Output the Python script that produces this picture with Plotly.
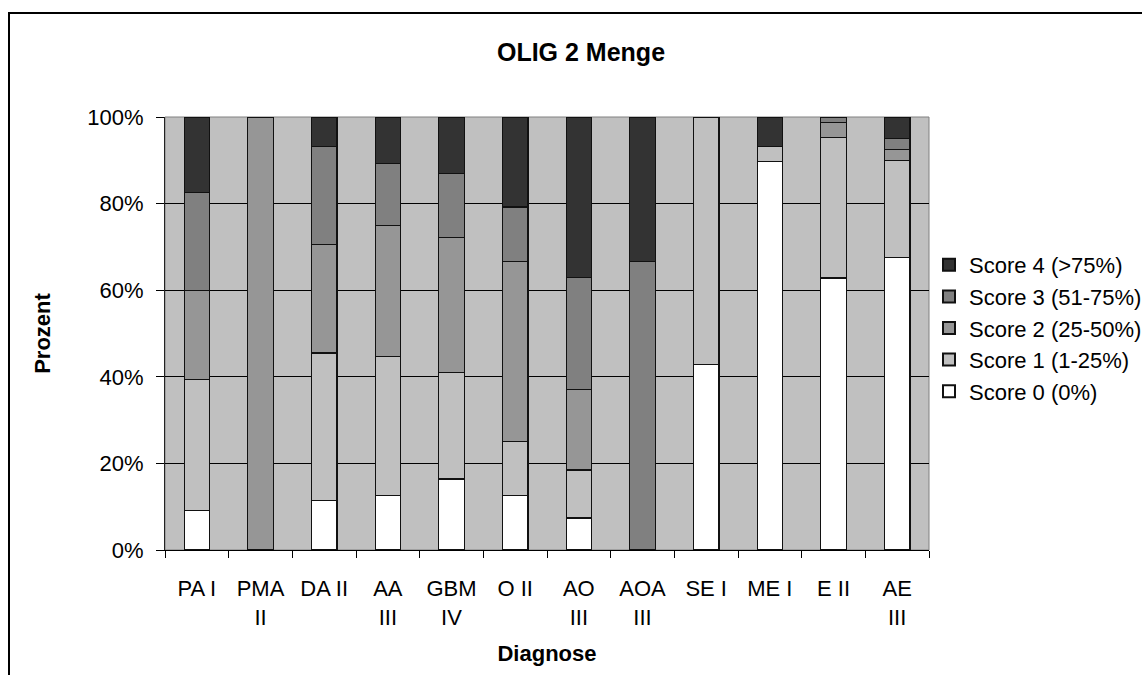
import plotly.graph_objects as go

categories = ["PA I", "PMA<br>II", "DA II", "AA<br>III", "GBM<br>IV", "O II",
              "AO<br>III", "AOA<br>III", "SE I", "ME I", "E II", "AE<br>III"]

score0 = [9.1, 0.0, 11.4, 12.5, 16.4, 12.5, 7.4, 0.0, 42.9, 89.7, 62.8, 67.5]
score1 = [30.2, 0.0, 34.1, 32.1, 24.6, 12.5, 11.1, 0.0, 57.1, 3.4, 32.5, 22.5]
score2 = [20.6, 100.0, 25.0, 30.4, 31.1, 41.7, 18.5, 0.0, 0.0, 0.0, 3.5, 2.5]
score3 = [22.6, 0.0, 22.7, 14.3, 14.8, 12.5, 26.0, 66.7, 0.0, 0.0, 1.2, 2.5]
score4 = [17.5, 0.0, 6.8, 10.7, 13.1, 20.8, 37.0, 33.3, 0.0, 6.9, 0.0, 5.0]

series_names = ["Score 0 (0%)", "Score 1 (1-25%)", "Score 2 (25-50%)",
                "Score 3 (51-75%)", "Score 4 (>75%)"]
series_values = [score0, score1, score2, score3, score4]
series_colors = ["#FFFFFF", "#C0C0C0", "#969696", "#808080", "#333333"]

y_ticks = [0, 20, 40, 60, 80, 100]
y_tick_labels = ["0%", "20%", "40%", "60%", "80%", "100%"]

FONT = "Liberation Sans, Arial, sans-serif"

fig = go.Figure()
for name, vals, col in zip(series_names, series_values, series_colors):
    fig.add_trace(go.Bar(
        x=categories, y=vals, name=name,
        marker=dict(color=col, line=dict(color="#111111", width=1.2)),
    ))

W, H = 1142, 675
L, R, T, B = 165, 929, 117, 550
pw, ph = R - L, B - T

def px_x(p):
    return (p - L) / pw

def px_y(p):
    return (B - p) / ph

fig.update_layout(
    width=W, height=H,
    margin=dict(l=L, r=W - R, t=T, b=H - B, autoexpand=False),
    barmode="stack", bargap=0.6,
    plot_bgcolor="#C0C0C0", paper_bgcolor="#FFFFFF",
    font=dict(family=FONT, size=22, color="#000000"),
    title=dict(text="<b>OLIG 2 Menge</b>", font=dict(size=25, family=FONT),
               x=581 / W, xanchor="center", xref="container",
               y=1 - 52 / H, yanchor="middle", yref="container"),
    legend=dict(x=1.0, xanchor="left", y=px_y(328), yanchor="middle",
                traceorder="reversed", font=dict(size=22, family=FONT),
                bgcolor="rgba(0,0,0,0)", itemsizing="constant"),
    xaxis=dict(
        type="category", showgrid=False, showline=True, linecolor="#000000",
        linewidth=1, ticks="outside", tickson="boundaries", ticklen=7,
        tickcolor="#000000", tickfont=dict(size=22),
        ticklabelstandoff=19,
        title=dict(text="<b>Diagnose</b>", font=dict(size=22), standoff=16),
    ),
    yaxis=dict(
        range=[0, 100], tickvals=y_ticks, ticktext=y_tick_labels,
        showgrid=True, gridcolor="#000000", gridwidth=1,
        showline=True, linecolor="#222222", linewidth=1,
        ticks="outside", ticklen=8, tickcolor="#000000",
        ticklabelstandoff=8, tickfont=dict(size=22), zeroline=False,
        title=dict(text="<b>Prozent</b>", font=dict(size=22), standoff=30),
    ),
    shapes=[
        dict(type="rect", xref="paper", yref="paper", x0=0, y0=0, x1=1, y1=1,
             line=dict(color="#808080", width=1), layer="below"),
        dict(type="rect", xref="paper", yref="paper",
             x0=px_x(9), y0=px_y(690), x1=px_x(1160), y1=px_y(13),
             line=dict(color="#000000", width=2)),
    ],
)

fig.write_html("out.html")
